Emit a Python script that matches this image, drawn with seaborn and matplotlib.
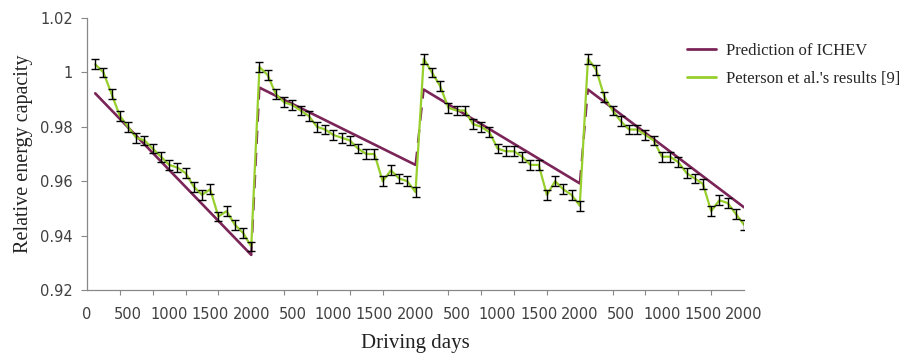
import numpy as np
import pandas as pd
import matplotlib
matplotlib.use("Agg")
import matplotlib.pyplot as plt
import seaborn as sns
from matplotlib.lines import Line2D

# --- data (four 2000-day driving cycles) ---
cycle_days = [100, 200, 300, 400, 500, 600, 700, 800, 900, 1000,
              1100, 1200, 1300, 1400, 1500, 1600, 1700, 1800, 1900, 2000]
cycle_length = 2000

peterson_c1 = [1.003, 1.000, 0.992, 0.984, 0.980, 0.976, 0.975, 0.972, 0.969, 0.966,
               0.965, 0.963, 0.958, 0.955, 0.957, 0.947, 0.949, 0.944, 0.941, 0.936]
peterson_c2 = [1.002, 0.999, 0.992, 0.989, 0.988, 0.986, 0.984, 0.980, 0.979, 0.977,
               0.976, 0.975, 0.972, 0.970, 0.970, 0.960, 0.964, 0.961, 0.960, 0.956]
peterson_c3 = [1.005, 1.000, 0.995, 0.987, 0.986, 0.986, 0.981, 0.980, 0.978, 0.972,
               0.971, 0.971, 0.969, 0.966, 0.966, 0.955, 0.960, 0.957, 0.955, 0.951]
peterson_c4 = [1.005, 1.001, 0.991, 0.986, 0.982, 0.979, 0.979, 0.977, 0.975, 0.969,
               0.969, 0.967, 0.963, 0.961, 0.959, 0.949, 0.953, 0.952, 0.948, 0.944]
peterson_err = 0.0018

# ICHEV prediction: straight line per cycle, start (day 100) and end (day 2000)
pred_start = [0.9923, 0.9944, 0.9937, 0.9937]
pred_end = [0.9329, 0.9660, 0.9592, 0.9504]

x_tick_labels = ["0", "500", "1000", "1500", "2000", "500", "1000", "1500", "2000",
                 "500", "1000", "1500", "2000", "500", "1000", "1500", "2000"]
y_ticks = [0.92, 0.94, 0.96, 0.98, 1.0, 1.02]
y_tick_labels = ["0.92", "0.94", "0.96", "0.98", "1", "1.02"]

PURPLE = "#7B2457"
GREEN = "#97CF2C"

# build long tables
rows = []
for c, vals in enumerate([peterson_c1, peterson_c2, peterson_c3, peterson_c4]):
    for d, v in zip(cycle_days, vals):
        rows.append({"day": c * cycle_length + d, "capacity": v, "cycle": c})
pet = pd.DataFrame(rows)

pred_rows = []
for c in range(4):
    pred_rows.append({"day": c * cycle_length + cycle_days[0], "capacity": pred_start[c], "cycle": c})
    pred_rows.append({"day": c * cycle_length + cycle_days[-1], "capacity": pred_end[c], "cycle": c})
pred = pd.DataFrame(pred_rows)

sns.set_theme(style="white")
plt.rcParams["font.family"] = ["DejaVu Sans"]

fig = plt.figure(figsize=(9.12, 3.56), dpi=100)
ax = fig.add_axes([87 / 912, 1 - 290 / 356, 657 / 912, 272 / 356])

# dashed purple jumps between prediction cycles
for c in range(3):
    ax.plot([(c + 1) * cycle_length, (c + 1) * cycle_length + cycle_days[0]],
            [pred_end[c], pred_start[c + 1]], color=PURPLE, lw=1.6,
            dashes=(6, 4), zorder=1)

sns.lineplot(data=pred, x="day", y="capacity", units="cycle", estimator=None,
             color=PURPLE, lw=1.9, ax=ax, zorder=2)
sns.lineplot(data=pet, x="day", y="capacity", color=GREEN, lw=1.6,
             estimator=None, ax=ax, zorder=3)
ax.errorbar(pet["day"], pet["capacity"], yerr=peterson_err, fmt="none",
            ecolor="black", elinewidth=1.0, capsize=3.2, capthick=1.0, zorder=4)

ax.set_xlim(0, 4 * cycle_length)
ax.set_ylim(0.92, 1.02)

# labels every 500 (no tick mark), tick marks every 400
ax.set_xticks(np.linspace(0, 4 * cycle_length, len(x_tick_labels)))
ax.set_xticklabels(x_tick_labels, fontsize=10.5, color="#404040")
ax.set_xticks(np.linspace(0, 4 * cycle_length, 21), minor=True)
ax.tick_params(axis="x", which="major", length=0, pad=12)
ax.tick_params(axis="x", which="minor", bottom=True, length=3.5, width=0.8,
               color="#888888", direction="out")
ax.set_yticks(y_ticks)
ax.set_yticklabels(y_tick_labels, fontsize=10.5, color="#404040")
ax.tick_params(axis="y", left=True, length=4, width=0.8, color="#888888",
               direction="out", pad=6)

for s in ["top", "right"]:
    ax.spines[s].set_visible(False)
for s in ["left", "bottom"]:
    ax.spines[s].set_color("#888888")
    ax.spines[s].set_linewidth(0.9)

ax.set_xlabel("Driving days", family="Liberation Serif", fontsize=15, color="#222222")
ax.set_ylabel("Relative energy capacity", family="Liberation Serif", fontsize=14.5,
              color="#222222")
ax.xaxis.set_label_coords(0.5, -0.16)
ax.yaxis.set_label_coords(-0.082, 0.5)

handles = [Line2D([], [], color=PURPLE, lw=2.0), Line2D([], [], color=GREEN, lw=2.0)]
fig.legend(handles, ["Prediction of ICHEV", "Peterson et al.'s results [9]"],
           loc="upper left", bbox_to_anchor=(687 / 912, 1 - 43 / 356),
           frameon=False, borderpad=0, borderaxespad=0, handlelength=1.75,
           handletextpad=0.6, labelspacing=0.7,
           prop={"family": "Liberation Serif", "size": 12})

fig.savefig("out.png", dpi=100)
